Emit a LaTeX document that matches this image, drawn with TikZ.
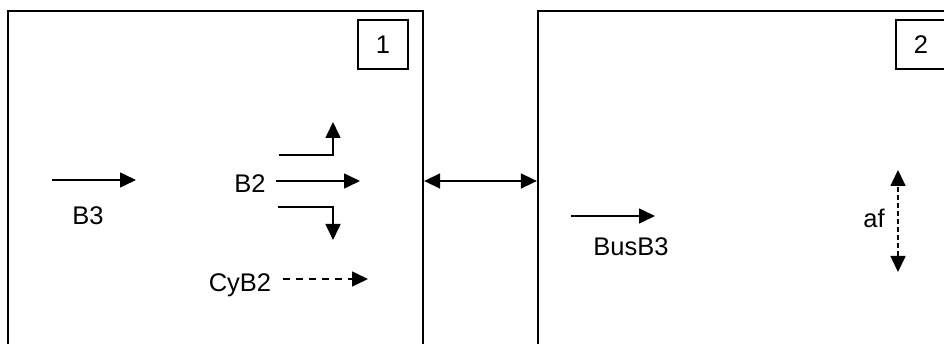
\documentclass[tikz,border=0pt]{standalone}
\usepackage{fontspec}
\setmainfont{Liberation Sans}
\usetikzlibrary{arrows.meta}
\begin{document}
\begin{tikzpicture}[x=1pt,y=-1pt, font=\fontsize{25.5}{30}\selectfont,
  frame/.style={draw, line width=2.3pt, inner sep=0pt},
  tagbox/.style={draw, line width=1.6pt, minimum width=50pt, minimum height=49pt, inner sep=0pt},
  tip/.tip={Triangle[length=16pt,width=15pt]},
  arr/.style={line width=1.6pt, -tip},
  darr/.style={arr, dash pattern=on 7pt off 6pt},
  lbl/.style={anchor=base, inner sep=0pt}]
\useasboundingbox (0,0) rectangle (944,344);
\clip (0,0) rectangle (944,344);

% frames
\node[frame, minimum width=415pt, minimum height=369pt] (box1) at (215.5,195.5) {};
\node[frame, minimum width=462pt, minimum height=369pt] (box2) at (769,195.5) {};
\node[tagbox] (tag1) at (383,44.5) {1};
\node[tagbox] (tag2) at (921,44.5) {2};

% connector between boxes
\draw[line width=1.6pt, tip-tip]
  (box1.east |- 0,181) -- (box2.west |- 0,181);

% B3
\coordinate (b3s) at (52,180);
\coordinate (b3e) at (136,180);
\draw[arr] (b3s) -- (b3e);
\node[lbl] (b3) at (88,225) {B3};

% B2
\node[lbl] (b2) at (250,193) {B2};
\coordinate (upS) at (279,155);
\coordinate (upE) at (333,122);
\draw[arr] (upS) -| (upE);
\coordinate (midS) at (276,181);
\coordinate (midE) at (360,181);
\draw[arr] (midS) -- (midE);
\coordinate (dnS) at (278,207);
\coordinate (dnE) at (333,240);
\draw[arr] (dnS) -| (dnE);

% CyB2
\node[lbl] (cyb2) at (240,291) {CyB2};
\coordinate (cyS) at (283,279);
\coordinate (cyE) at (368,279);
\draw[darr] (cyS) -- (cyE);

% BusB3
\coordinate (busS) at (571,216);
\coordinate (busE) at (655,216);
\draw[arr] (busS) -- (busE);
\node[lbl] (busb3) at (631,256) {BusB3};

% af
\node[lbl] (af) at (874,228) {af};
\coordinate (afT) at (898,170);
\coordinate (afB) at (898,272);
\draw[line width=1.6pt, dash pattern=on 5pt off 3pt, tip-tip] (afB) -- (afT);
\end{tikzpicture}
\end{document}
